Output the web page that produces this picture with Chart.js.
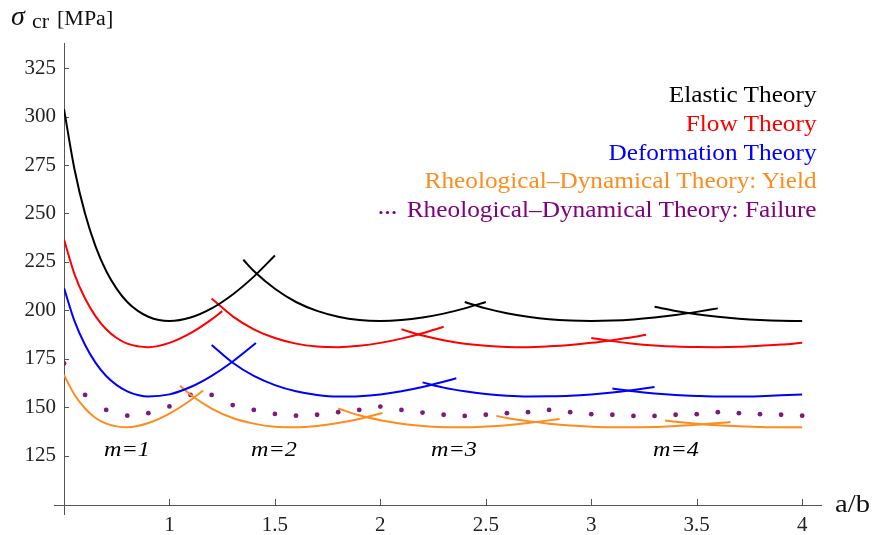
<!DOCTYPE html>
<html>
<head>
<meta charset="utf-8">
<script src="https://cdn.jsdelivr.net/npm/chart.js@4.4.0/dist/chart.umd.min.js"></script>
<style>
  body { margin: 0; background: #fff; }
  #wrap { position: relative; width: 874px; height: 535px; font-family: "Liberation Serif", "Times New Roman", serif; }
  #c { position: absolute; left: 0; top: 0; }
  .t { position: absolute; white-space: nowrap; line-height: 1; color: #111; }
  .sx { transform: scaleX(1.1); transform-origin: left top; }
  #legend { position: absolute; right: 57px; top: 81px; text-align: right; font-size: 23px; line-height: 28.8px;
            transform: scaleX(1.1); transform-origin: right top; white-space: nowrap; }
  .dots { display: inline-block; width: 25px; height: 3px; position: relative; vertical-align: 3px; }
  .dots i { position: absolute; top: 0; width: 3px; height: 3px; border-radius: 50%; background: #800080; }
  .m { position: absolute; top: 436px; font-size: 22px; font-style: italic; transform: scaleX(1.1); transform-origin: center; }
</style>
</head>
<body>
<div id="wrap">
  <canvas id="c" width="874" height="535"></canvas>
  <div class="t" style="left:11px;top:2px;font-size:28px;font-style:italic;">σ</div>
  <div class="t sx" style="left:32px;top:11px;font-size:20px;">cr</div>
  <div class="t sx" style="left:57px;top:8px;font-size:20px;">[MPa]</div>
  <div class="t sx" style="left:835px;top:491px;font-size:26px;">a/b</div>
  <div id="legend">
    <div style="color:#000">Elastic Theory</div>
    <div style="color:#f00">Flow Theory</div>
    <div style="color:#00f">Deformation Theory</div>
    <div style="color:#ff8c1e">Rheological–Dynamical Theory: Yield</div>
    <div style="color:#800080"><span class="dots"><i style="left:0"></i><i style="left:6px"></i><i style="left:12px"></i></span>Rheological–Dynamical Theory: Failure</div>
  </div>
  <div class="m" style="left:106px">m=1</div>
  <div class="m" style="left:253px">m=2</div>
  <div class="m" style="left:433px">m=3</div>
  <div class="m" style="left:655px">m=4</div>
</div>
<script>
// tick labels
const xTicks = [1, 1.5, 2, 2.5, 3, 3.5, 4];
const yTicks = [125, 150, 175, 200, 225, 250, 275, 300, 325];

// Elastic theory, one piece per buckling mode m
const elasticM1 = [[0.5,303.9],[0.55,272.7],[0.6,249.8],[0.65,232.9],[0.7,220.3],[0.75,211.1],[0.8,204.3],[0.85,199.7],[0.9,196.7],[0.95,195.0],[1.0,194.5],[1.1,196.3],[1.2,201.0],[1.3,208.2],[1.4,217.4],[1.5,228.3]];
const elasticM2 = [[1.35,226.1],[1.4,220.3],[1.5,211.1],[1.6,204.3],[1.7,199.7],[1.8,196.7],[1.9,195.0],[2.0,194.5],[2.1,195.0],[2.2,196.3],[2.3,198.3],[2.4,201.0],[2.5,204.3]];
const elasticM3 = [[2.4,204.3],[2.5,201.0],[2.6,198.5],[2.7,196.7],[2.8,195.4],[2.9,194.7],[3.0,194.5],[3.1,194.7],[3.2,195.3],[3.3,196.3],[3.4,197.6],[3.5,199.2],[3.6,201.0]];
const elasticM4 = [[3.3,201.8],[3.4,199.7],[3.5,198.0],[3.6,196.7],[3.7,195.7],[3.8,195.0],[3.9,194.6],[4.0,194.5]];

// Flow theory
const flowM1 = [[0.5,236.5],[0.55,218.6],[0.6,206.1],[0.65,196.9],[0.7,190.2],[0.75,185.7],[0.8,182.8],[0.9,181.0],[1.0,183.2],[1.1,188.2],[1.2,195.3],[1.25,199.6]];
const flowM2 = [[1.2,206.1],[1.3,196.9],[1.4,190.2],[1.5,185.7],[1.6,182.8],[1.7,181.3],[1.8,181.0],[1.9,181.7],[2.0,183.2],[2.1,185.4],[2.2,188.2],[2.3,191.5]];
const flowM3 = [[2.1,190.2],[2.2,187.0],[2.3,184.6],[2.4,182.8],[2.5,181.7],[2.6,181.1],[2.7,181.0],[2.8,181.4],[2.9,182.1],[3.0,183.2],[3.1,184.6],[3.2,186.2],[3.26,187.4]];
const flowM4 = [[3.0,185.7],[3.1,184.1],[3.2,182.8],[3.3,181.9],[3.4,181.3],[3.5,181.05],[3.6,181.0],[3.7,181.2],[3.8,181.7],[3.9,182.3],[4.0,183.2]];

// Deformation theory
const deformM1 = [[0.5,211.5],[0.55,194.4],[0.6,182.1],[0.65,172.9],[0.7,166.1],[0.75,161.4],[0.8,158.2],[0.85,156.3],[0.9,155.5],[1.0,156.6],[1.1,160.4],[1.2,166.2],[1.3,173.6],[1.41,183.1]];
const deformM2 = [[1.2,182.1],[1.3,172.9],[1.4,166.1],[1.5,161.4],[1.6,158.2],[1.7,156.3],[1.8,155.5],[1.9,155.7],[2.0,156.6],[2.1,158.2],[2.2,160.4],[2.3,163.1],[2.36,164.9]];
const deformM3 = [[2.2,162.8],[2.3,160.1],[2.4,158.2],[2.5,156.8],[2.6,155.9],[2.7,155.5],[2.8,155.6],[2.9,155.9],[3.0,156.6],[3.1,157.6],[3.2,158.9],[3.3,160.4]];
const deformM4 = [[3.1,159.6],[3.2,158.2],[3.3,157.1],[3.4,156.3],[3.5,155.8],[3.6,155.5],[3.7,155.5],[3.8,155.7],[3.9,156.1],[4.0,156.6]];

// Rheological-dynamical theory: yield
const yieldM1 = [[0.5,166.6],[0.55,156.4],[0.6,149.3],[0.65,144.4],[0.7,141.5],[0.8,139.6],[0.9,141.8],[1.0,146.7],[1.1,153.6],[1.16,158.6]];
const yieldM2 = [[1.05,161.1],[1.1,156.4],[1.2,149.3],[1.3,144.4],[1.4,141.5],[1.5,139.9],[1.6,139.6],[1.7,140.3],[1.8,141.8],[1.9,143.9],[2.01,147.0]];
const yieldM3 = [[1.8,149.3],[1.9,145.8],[2.0,143.3],[2.1,141.5],[2.2,140.3],[2.3,139.7],[2.4,139.6],[2.5,140.0],[2.6,140.7],[2.7,141.8],[2.85,143.9]];
const yieldM4 = [[2.55,145.5],[2.6,144.4],[2.7,142.8],[2.8,141.5],[2.9,140.5],[3.0,139.9],[3.1,139.6],[3.2,139.6],[3.3,139.8],[3.4,140.3],[3.5,140.9],[3.66,142.3]];
const yieldM5 = [[3.35,143.1],[3.4,142.5],[3.5,141.5],[3.6,140.7],[3.7,140.2],[3.8,139.8],[3.9,139.6],[4.0,139.6]];

// Rheological-dynamical theory: failure (dots)
const failureX = [0.5,0.6,0.7,0.8,0.9,1.0,1.1,1.2,1.3,1.4,1.5,1.6,1.7,1.8,1.9,2.0,2.1,2.2,2.3,2.4,2.5,2.6,2.7,2.8,2.9,3.0,3.1,3.2,3.3,3.4,3.5,3.6,3.7,3.8,3.9,4.0];
const failureY = [172.6,156.3,148.6,145.6,146.9,150.4,156.3,156.3,151.1,148.6,146.5,145.6,146.1,147.4,148.6,150.3,148.6,147.2,146.1,145.5,146.1,146.9,147.4,148.6,147.4,146.4,146.1,145.5,145.5,146.1,146.4,147.4,146.9,146.4,146.1,145.6];

function curves(list, color) {
  return list.map(pts => ({
    data: pts.map(p => ({x: p[0], y: p[1]})),
    showLine: true,
    borderColor: color,
    borderWidth: 2,
    pointRadius: 0,
    fill: false,
    cubicInterpolationMode: 'monotone'
  }));
}

const datasets = [
  ...curves([elasticM1, elasticM2, elasticM3, elasticM4], '#000000'),
  ...curves([flowM1, flowM2, flowM3, flowM4], '#ff0000'),
  ...curves([deformM1, deformM2, deformM3, deformM4], '#0000ff'),
  ...curves([yieldM1, yieldM2, yieldM3, yieldM4, yieldM5], '#ff8c1e'),
  {
    data: failureX.map((x, i) => ({x: x, y: failureY[i]})),
    showLine: false,
    pointRadius: 2.4,
    pointBackgroundColor: '#7d1a7d',
    pointBorderWidth: 0
  }
];

// axes lines with inward ticks, Mathematica style
const axesPlugin = {
  id: 'axes',
  beforeDatasetsDraw(chart) {
    const {ctx, chartArea: a, scales: {x, y}} = chart;
    ctx.save();
    ctx.strokeStyle = '#555';
    ctx.lineWidth = 1;
    ctx.beginPath();
    ctx.moveTo(a.left - 10, a.bottom + 0.5);
    ctx.lineTo(a.right, a.bottom + 0.5);
    ctx.moveTo(a.left + 0.5, a.top);
    ctx.lineTo(a.left + 0.5, a.bottom + 10);
    xTicks.forEach(v => {
      const px = Math.round(x.getPixelForValue(v)) + 0.5;
      ctx.moveTo(px, a.bottom);
      ctx.lineTo(px, a.bottom - 6);
    });
    yTicks.forEach(v => {
      const py = Math.round(y.getPixelForValue(v)) + 0.5;
      ctx.moveTo(a.left, py);
      ctx.lineTo(a.left + 5, py);
    });
    ctx.stroke();
    ctx.restore();
  }
};

const tickFont = {family: '"Liberation Serif", "Times New Roman", serif', size: 21};

new Chart(document.getElementById('c').getContext('2d'), {
  type: 'scatter',
  data: {datasets: datasets},
  options: {
    responsive: false,
    animation: false,
    devicePixelRatio: 1,
    layout: {padding: {left: 0, top: 43, right: 52, bottom: 0}},
    plugins: {legend: {display: false}, tooltip: {enabled: false}},
    scales: {
      x: {
        type: 'linear',
        min: 0.5,
        max: 4.094,
        grid: {display: false, drawTicks: false},
        border: {display: false},
        afterBuildTicks: s => { s.ticks = xTicks.map(v => ({value: v})); },
        afterFit: s => { s.height = 30; },
        ticks: {font: tickFont, color: '#222', padding: 8, maxRotation: 0, autoSkip: false,
                callback: v => String(v)}
      },
      y: {
        type: 'linear',
        min: 99.5,
        max: 338,
        grid: {display: false, drawTicks: false},
        border: {display: false},
        afterBuildTicks: s => { s.ticks = yTicks.map(v => ({value: v})); },
        afterFit: s => { s.width = 64; },
        ticks: {font: tickFont, color: '#222', padding: 8, autoSkip: false,
                callback: v => String(v)}
      }
    }
  },
  plugins: [axesPlugin]
});
</script>
</body>
</html>
